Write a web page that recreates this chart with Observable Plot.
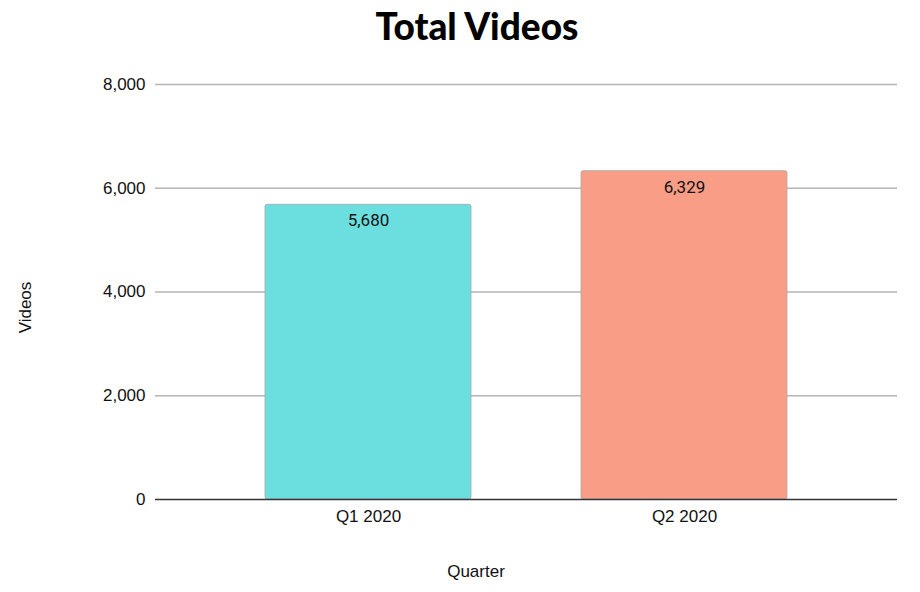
<!DOCTYPE html>
<html>
<head>
<meta charset="utf-8">
<script src="https://cdn.jsdelivr.net/npm/d3@7"></script>
<script src="https://cdn.jsdelivr.net/npm/@observablehq/plot@0.6"></script>
<style>
  html, body { margin: 0; padding: 0; background: #fff; }
  #title { height: 50px; line-height: 52px; text-align: center; font-family: Lato, "Noto Sans", sans-serif; font-weight: 900; font-size: 37px; color: #000; padding-left: 34px; box-sizing: border-box; }
</style>
</head>
<body>
<div id="title">Total Videos</div>
<div id="chart"></div>
<script>
const quarters = ["Q1 2020", "Q2 2020"];
const videos = [5680, 6329];
const colors = ["#6bdfdf", "#f99d87"];
const yTicks = [0, 2000, 4000, 6000, 8000];

const data = quarters.map((q, i) => ({quarter: q, videos: videos[i], color: colors[i]}));
const fmt = d3.format(",");

const chart = Plot.plot({
  width: 920,
  height: 542,
  marginTop: 34,
  marginBottom: 93,
  marginLeft: 155,
  marginRight: 23,
  style: {fontFamily: "'Liberation Sans', Arial, sans-serif", fontSize: "17px", color: "#222", background: "#fff"},
  x: {domain: quarters, padding: 0.348, label: null, tickSize: 0, tickPadding: 10},
  y: {domain: [0, 8000], ticks: yTicks, label: null, tickSize: 0, tickPadding: 10, tickFormat: fmt},
  marks: [
    Plot.gridY(yTicks.filter(d => d > 0), {stroke: "#b5b5b5", strokeOpacity: 1, strokeWidth: 1.6}),
    Plot.axisY({ticks: yTicks, tickSize: 0, tickPadding: 10, tickFormat: fmt, label: null, fontSize: 17, fill: "#111"}),
    Plot.axisX({tickSize: 0, tickPadding: 10, label: null, fontSize: 17, fill: "#111"}),
    Plot.barY(data, {x: "quarter", y: "videos", fill: "color", stroke: "#a8a8a8", strokeWidth: 0.8, rx: 2}),
    Plot.ruleY([0], {stroke: "#333", strokeWidth: 1.5}),
    Plot.text(data, {x: "quarter", y: "videos", text: d => fmt(d.videos), dy: 16, fill: "#111", fontSize: 17, fontFamily: "Roboto, sans-serif"})
  ]
});
document.getElementById("chart").appendChild(chart);

const svg = d3.select(chart);
const xs = chart.scale("x");
svg.append("text")
  .attr("transform", `translate(27, ${chart.scale("y").apply(4000) + 16}) rotate(-90)`)
  .attr("text-anchor", "middle").attr("dominant-baseline", "middle")
  .attr("font-size", 17).attr("fill", "#111")
  .text("Videos");
svg.append("text")
  .attr("x", (155 + 897) / 2 - 50).attr("y", 523)
  .attr("text-anchor", "middle").attr("dominant-baseline", "middle")
  .attr("font-size", 17).attr("fill", "#111")
  .text("Quarter");
</script>
</body>
</html>
